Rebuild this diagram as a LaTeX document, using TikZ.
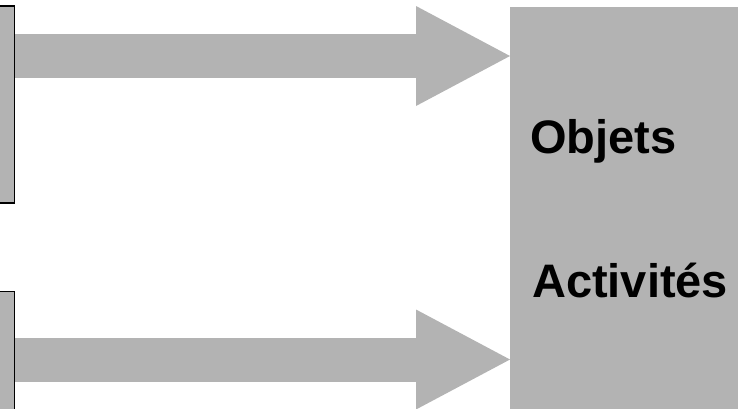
\documentclass[tikz,border=0pt]{standalone}
\usepackage{fontspec}
\setmainfont{Liberation Sans}
\usetikzlibrary{arrows.meta}
\definecolor{boxgrey}{HTML}{B3B3B3}
\tikzset{
  sidebox/.style={draw=black, line width=1.4pt, fill=boxgrey, inner sep=0pt, minimum width=80pt},
  bigbox/.style={fill=boxgrey, draw=none, inner sep=0pt, minimum width=228pt, minimum height=420pt},
  fatarrow/.style={draw=boxgrey, line width=44pt, -{Triangle[length=94pt,width=100pt,line width=0pt,fill=boxgrey]}},
  label/.style={font=\fontsize{47pt}{50pt}\selectfont\bfseries, anchor=base west, inner sep=0pt, text=black}
}
\begin{document}
\begin{tikzpicture}[x=1pt,y=-1pt]
\useasboundingbox (0,0) rectangle (738,408);
\clip (0,0) rectangle (738,408);
\node[sidebox, minimum height=197pt, anchor=north east] (topbox) at (15.4,5.3) {};
\node[sidebox, minimum height=200pt, anchor=north east] (botbox) at (15.4,290.5) {};
\node[bigbox, anchor=north west] (big) at (510,7) {};
\draw[fatarrow] (topbox.east |- 0,56) -- (big.west |- 0,56);
\draw[fatarrow] (botbox.east |- 0,359.5) -- (big.west |- 0,359.5);
\node[label] (objets) at (530,153) {Objets};
\node[label] (activites) at (532,297) {Activités};
\end{tikzpicture}
\end{document}
